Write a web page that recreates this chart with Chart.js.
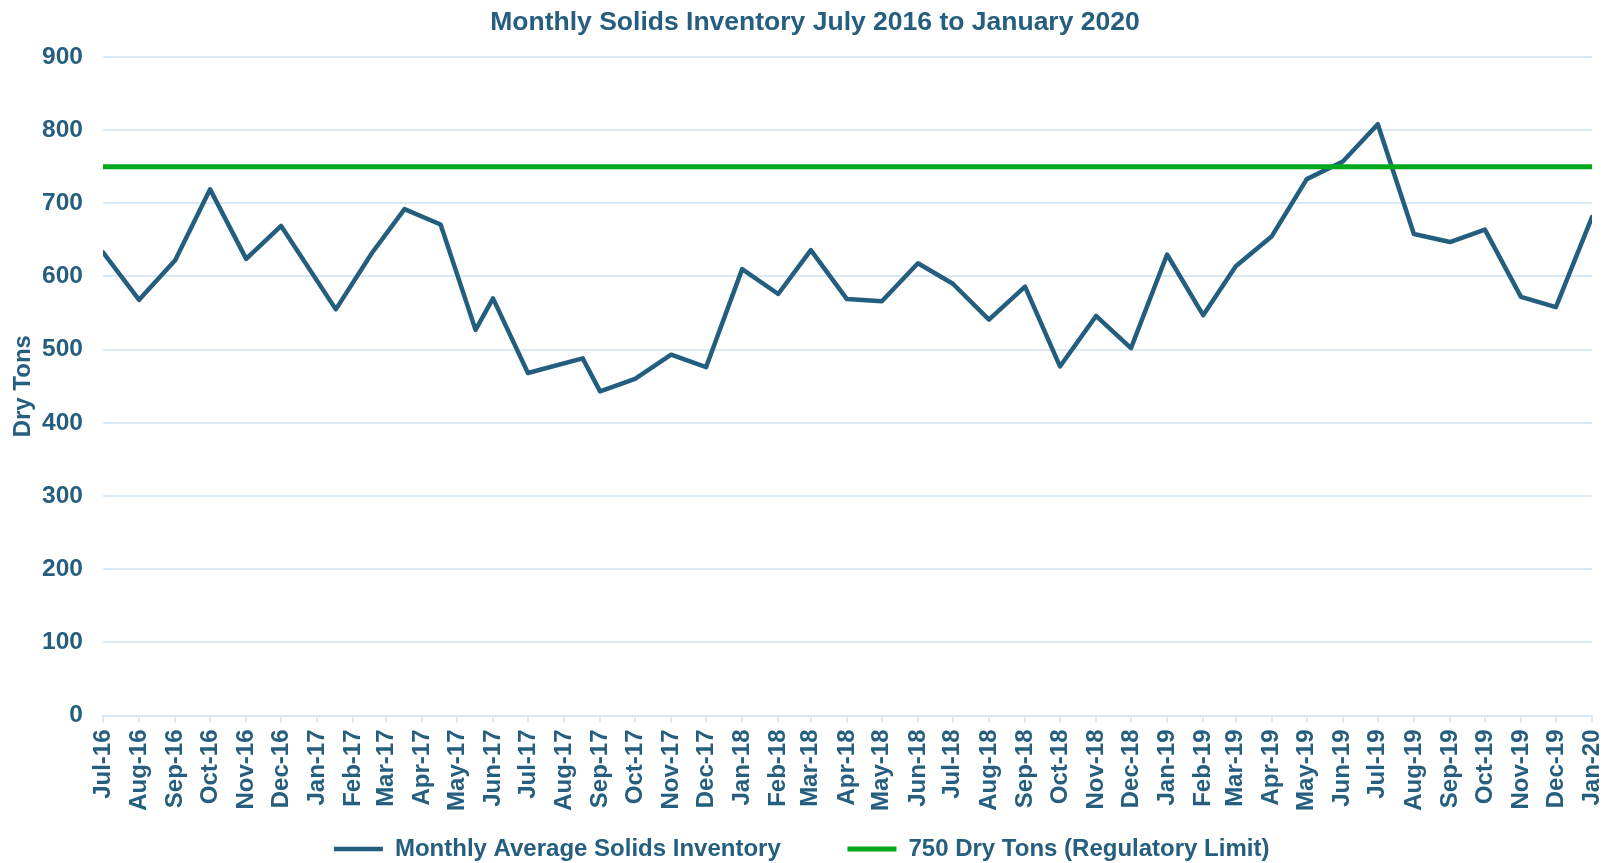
<!DOCTYPE html>
<html>
<head>
<meta charset="utf-8">
<title>Monthly Solids Inventory</title>
<script src="https://cdn.jsdelivr.net/npm/chart.js@4.4.1/dist/chart.umd.min.js"></script>
<style>
  html, body { margin: 0; padding: 0; background: #fff; }
  #wrap { width: 1614px; height: 863px; }
</style>
</head>
<body>
<div id="wrap"><canvas id="inventoryChart"></canvas></div>
<script>
// sample dates - the Jan-May 2017 and Aug 2017 readings were taken mid-month
var sampleDates = [
  '2016-07-01', '2016-08-01', '2016-09-01', '2016-10-01', '2016-11-01', '2016-12-01',
  '2017-01-17', '2017-02-17', '2017-03-17', '2017-04-17', '2017-05-17', '2017-06-01',
  '2017-07-01', '2017-08-17', '2017-09-01', '2017-10-01', '2017-11-01', '2017-12-01',
  '2018-01-01', '2018-02-01', '2018-03-01', '2018-04-01', '2018-05-01', '2018-06-01',
  '2018-07-01', '2018-08-01', '2018-09-01', '2018-10-01', '2018-11-01', '2018-12-01',
  '2019-01-01', '2019-02-01', '2019-03-01', '2019-04-01', '2019-05-01', '2019-06-01',
  '2019-07-01', '2019-08-01', '2019-09-01', '2019-10-01', '2019-11-01', '2019-12-01',
  '2020-01-01'
];
// dry tons
var inventory = [
  633, 568, 622, 719, 624, 669,
  555, 632, 692, 671, 527, 570,
  468, 488, 443, 460, 493, 476,
  610, 576, 636, 569, 566, 618,
  590, 541, 586, 477, 546, 502,
  630, 547, 614, 655, 733, 757,
  808, 658, 647, 664, 572, 558,
  681
];
var regulatoryLimit = 750;

var monthLabels = [
  'Jul-16', 'Aug-16', 'Sep-16', 'Oct-16', 'Nov-16', 'Dec-16',
  'Jan-17', 'Feb-17', 'Mar-17', 'Apr-17', 'May-17', 'Jun-17',
  'Jul-17', 'Aug-17', 'Sep-17', 'Oct-17', 'Nov-17', 'Dec-17',
  'Jan-18', 'Feb-18', 'Mar-18', 'Apr-18', 'May-18', 'Jun-18',
  'Jul-18', 'Aug-18', 'Sep-18', 'Oct-18', 'Nov-18', 'Dec-18',
  'Jan-19', 'Feb-19', 'Mar-19', 'Apr-19', 'May-19', 'Jun-19',
  'Jul-19', 'Aug-19', 'Sep-19', 'Oct-19', 'Nov-19', 'Dec-19',
  'Jan-20'
];
var yMin = 0, yMax = 900, yStep = 100;

var MONTHS = ['Jan','Feb','Mar','Apr','May','Jun','Jul','Aug','Sep','Oct','Nov','Dec'];
var DAY = 86400000;
var origin = Date.UTC(2016, 6, 1);

// x axis is a day count from Jul 1 2016, like excel's date axis
function dayFromIso(s) {
  var p = s.split('-');
  return (Date.UTC(+p[0], +p[1] - 1, +p[2]) - origin) / DAY;
}
function dayFromLabel(s) {
  var p = s.split('-');
  return (Date.UTC(2000 + +p[1], MONTHS.indexOf(p[0]), 1) - origin) / DAY;
}

var monthDays = monthLabels.map(dayFromLabel);
var inventoryPoints = sampleDates.map(function (d, i) {
  return { x: dayFromIso(d), y: inventory[i] };
});
var limitPoints = [
  { x: monthDays[0], y: regulatoryLimit },
  { x: monthDays[monthDays.length - 1], y: regulatoryLimit }
];

var textColor = '#255e7e';
var gridColor = '#dbe9f4';
var fontFamily = "'Liberation Sans', Arial, sans-serif";

// trailing blanks: wider gap after the first legend entry, and nudge the whole row left
var legendTail = ['       ', '    '];

var ctx = document.getElementById('inventoryChart').getContext('2d');

var chart = new Chart(ctx, {
    type: 'line',
    data: {
        datasets: [{
            label: 'Monthly Average Solids Inventory',
            data: inventoryPoints,
            borderColor: '#245e7f',
            backgroundColor: '#245e7f',
            borderWidth: 4.5,
            borderJoinStyle: 'round',
            borderCapStyle: 'round',
            pointRadius: 0,
            tension: 0,
            fill: false,
            order: 1
        }, {
            label: '750 Dry Tons (Regulatory Limit)',
            data: limitPoints,
            borderColor: '#00a81c',
            backgroundColor: '#00a81c',
            borderWidth: 5,
            borderCapStyle: 'round',
            pointRadius: 0,
            tension: 0,
            fill: false,
            order: 0   // green limit line drawn on top
        }]
    },
    options: {
        responsive: true,
        maintainAspectRatio: false,
        animation: false,
        // title sits a bit right of centre; legend a little lower than default
        layout: { padding: { top: 3, right: 0, left: 16, bottom: -8 } },
        plugins: {
            title: {
                display: true,
                text: 'Monthly Solids Inventory July 2016 to January 2020',
                color: textColor,
                font: { family: fontFamily, size: 26.5, weight: 'bold' },
                padding: { top: 3.6, bottom: 18.5 }
            },
            legend: {
                position: 'bottom',
                labels: {
                    color: textColor,
                    font: { family: fontFamily, size: 24, weight: 'bold' },
                    usePointStyle: true,
                    pointStyle: 'line',
                    pointStyleWidth: 49,
                    padding: 20,
                    sort: function (a, b) { return a.datasetIndex - b.datasetIndex; },
                    generateLabels: function (c) {
                        var items = Chart.defaults.plugins.legend.labels.generateLabels(c);
                        items.forEach(function (it) { it.text += legendTail[it.datasetIndex]; });
                        return items;
                    }
                }
            },
            tooltip: { enabled: false }
        },
        scales: {
            x: {
                type: 'linear',
                min: monthDays[0],
                max: monthDays[monthDays.length - 1],
                afterBuildTicks: function (scale) {
                    scale.ticks = monthDays.map(function (v) { return { value: v }; });
                },
                afterFit: function (scale) {
                    scale.height = 101.5;
                    scale.paddingLeft = 0;
                    scale.paddingRight = 22;
                },
                ticks: {
                    autoSkip: false,
                    minRotation: 90,
                    maxRotation: 90,
                    padding: 7,
                    color: textColor,
                    font: { family: fontFamily, size: 24, weight: 'bold' },
                    callback: function (value) {
                        return monthLabels[monthDays.indexOf(value)];
                    }
                },
                grid: {
                    drawOnChartArea: false,
                    drawTicks: true,
                    tickLength: 7,
                    color: gridColor,
                    lineWidth: 2
                },
                border: { display: true, color: gridColor, width: 2 }
            },
            y: {
                min: yMin,
                max: yMax,
                afterFit: function (scale) { scale.width = 87; },
                ticks: {
                    stepSize: yStep,
                    padding: 20,
                    color: textColor,
                    font: { family: fontFamily, size: 24.5, weight: 'bold' }
                },
                grid: {
                    color: gridColor,
                    lineWidth: 2,
                    drawTicks: false
                },
                border: { display: false },
                title: {
                    display: true,
                    text: 'Dry Tons',
                    color: textColor,
                    font: { family: fontFamily, size: 24, weight: 'bold' },
                    padding: { top: -7.5, bottom: 0 }
                }
            }
        }
    }
});
</script>
</body>
</html>
